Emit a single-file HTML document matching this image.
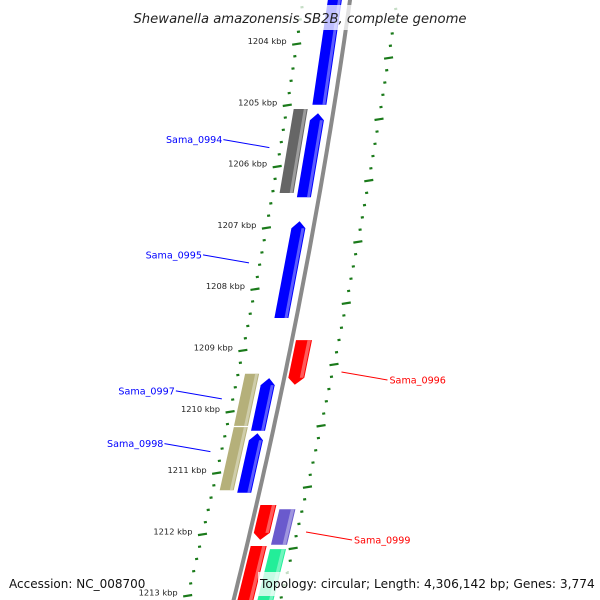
<!DOCTYPE html>
<html><head><meta charset="utf-8"><style>
body{margin:0;background:#fff;overflow:hidden;}
svg{display:block;font-family:"DejaVu Sans","Liberation Sans",sans-serif;}
</style></head><body>
<svg id="map" width="600" height="600" viewBox="0 0 600 600" xmlns="http://www.w3.org/2000/svg">
<g id="ticks"></g>
<path id="backbone" fill="none" stroke="#8a8a8a" stroke-width="4"/>
<g id="feats"></g>
<g id="labels"></g>
<rect x="128" y="5" width="344" height="25" fill="#fff" opacity="0.75"/>
<text x="300" y="23" text-anchor="middle" font-size="13.2" font-style="italic" fill="#222">Shewanella amazonensis SB2B, complete genome</text>
<text x="9" y="588" font-size="12" fill="#111">Accession: NC_008700</text>
<rect x="258" y="572" width="336" height="24" fill="#fff" opacity="0.75"/>
<text x="260" y="588" font-size="12.2" fill="#111">Topology: circular; Length: 4,306,142 bp; Genes: 3,774</text>
</svg>
<script>
// kbp positions of major ticks
const tickKbp = [1203, 1204, 1205, 1206, 1207, 1208, 1209, 1210, 1211, 1212, 1213, 1214];
// features: start kbp, end kbp
const featStart = [1203.0, 1205.13, 1206.89, 1209.45, 1210.35, 1205.06, 1209.38, 1210.25, 1208.83, 1211.52, 1211.59, 1212.19, 1212.24];
const featEnd   = [1204.99, 1206.50, 1208.47, 1210.31, 1211.32, 1206.43, 1210.23, 1211.28, 1209.56, 1212.09, 1212.17, 1213.4, 1213.4];
const featLane  = ['f1','f1','f1','f1','f1','f2','f2','f2','r1','r1','r2','r1','r2'];
const featColor = ['#0000ff','#0000ff','#0000ff','#0000ff','#0000ff','#666666','#b5b07a','#b5b07a','#ff0000','#ff0000','#6a5acd','#ff0000','#22ee99'];
const featHead  = ['none','top','top','top','top','none','none','none','bottom','bottom','none','none','none'];
// labels
const labelText = ['Sama_0994','Sama_0995','Sama_0997','Sama_0998','Sama_0996','Sama_0999'];
const labelKbp  = [1205.69, 1207.57, 1209.79, 1210.65, 1209.35, 1211.96];
const labelSide = ['left','left','left','left','right','right'];

const NS='http://www.w3.org/2000/svg';
const yOf = k => 44 + (k - 1204) * 61.3;
const B = y => 350 - 0.14*y - 0.00009*y*y;
const lanes = {f1:[-22,-8], f2:[-40,-26], r1:[4,20], r2:[24,40]};
function mk(tag, attrs, parent){const e=document.createElementNS(NS,tag);for(const k in attrs)e.setAttribute(k,attrs[k]);parent.appendChild(e);return e;}

let d='';for(let y=-10;y<=610;y+=10){d+=(y===-10?'M':'L')+B(y).toFixed(1)+' '+y;}
document.getElementById('backbone').setAttribute('d',d);

const tg=document.getElementById('ticks');
for(let i=0;i<tickKbp.length;i++){
  for(let m=0;m<5;m++){
    const k=tickKbp[i]+m*0.2; const y=yOf(k);
    [-47,47].forEach((off,si)=>{
      const yy = si===1 ? y+14 : y;
      const x=B(yy)+off; const len = m===0?9:3;
      const t=mk('line',{x1:x-len/2,y1:yy+len*0.08,x2:x+len/2,y2:yy-len*0.08,stroke:'#1a7a1a','stroke-width':2.2},tg);
      
      
    });
  }
  const y=yOf(tickKbp[i]);
  const lt=mk('text',{x:B(y)-47-10,y:y,'text-anchor':'end','font-size':8.3,fill:'#222'},tg);
  lt.textContent=tickKbp[i]+' kbp';
  
  
}

const fg=document.getElementById('feats');
function lighten(c){const n=parseInt(c.slice(1),16);let r=n>>16,g=(n>>8)&255,b=n&255;r=Math.round(r+(255-r)*0.45);g=Math.round(g+(255-g)*0.45);b=Math.round(b+(255-b)*0.45);return `rgb(${r},${g},${b})`;}
for(let i=0;i<featStart.length;i++){
  const [o1,o2]=lanes[featLane[i]];
  let y1=yOf(featStart[i]), y2=yOf(featEnd[i]);
  const pts=[];
  const head=featHead[i], hl=7;
  const ya = head==='top'? y1+hl : y1, yb = head==='bottom'? y2-hl : y2;
  if(head==='top'){pts.push([B(y1)+(o1+o2)/2,y1]);}
  pts.push([B(ya)+o2,ya]);pts.push([B(yb)+o2,yb]);
  if(head==='bottom'){pts.push([B(y2)+(o1+o2)/2,y2]);}
  pts.push([B(yb)+o1,yb]);pts.push([B(ya)+o1,ya]);
  const p=mk('polygon',{points:pts.map(p=>p[0].toFixed(1)+','+p[1].toFixed(1)).join(' '),fill:featColor[i]},fg);
  
  
  const w=o2-o1, s1=o2-w*0.28;
  const hp=[[B(ya)+s1,ya],[B(ya)+o2-1,ya],[B(yb)+o2-1,yb],[B(yb)+s1,yb]];
  const h=mk('polygon',{points:hp.map(p=>p[0].toFixed(1)+','+p[1].toFixed(1)).join(' '),fill:lighten(featColor[i]),opacity:0.8},fg);
  
  
}

const lg=document.getElementById('labels');
for(let i=0;i<labelText.length;i++){
  const y=yOf(labelKbp[i]);
  const left=labelSide[i]==='left';
  const col=left?'#0000ff':'#ff0000';
  const x0= left? B(y)-58 : B(y)+56;
  const x1= left? x0-46 : x0+46;
  const y1 = left? y-8 : y+8;
  const l=mk('line',{x1:x0,y1:y,x2:x1,y2:y1,stroke:col,'stroke-width':1},lg);
  
  
  const t=mk('text',{x:left?x1-1:x1+2,y:y1+3.5,'text-anchor':left?'end':'start','font-size':9.6,fill:col},lg);
  t.textContent=labelText[i];
  
  
}
</script>
</body></html>
